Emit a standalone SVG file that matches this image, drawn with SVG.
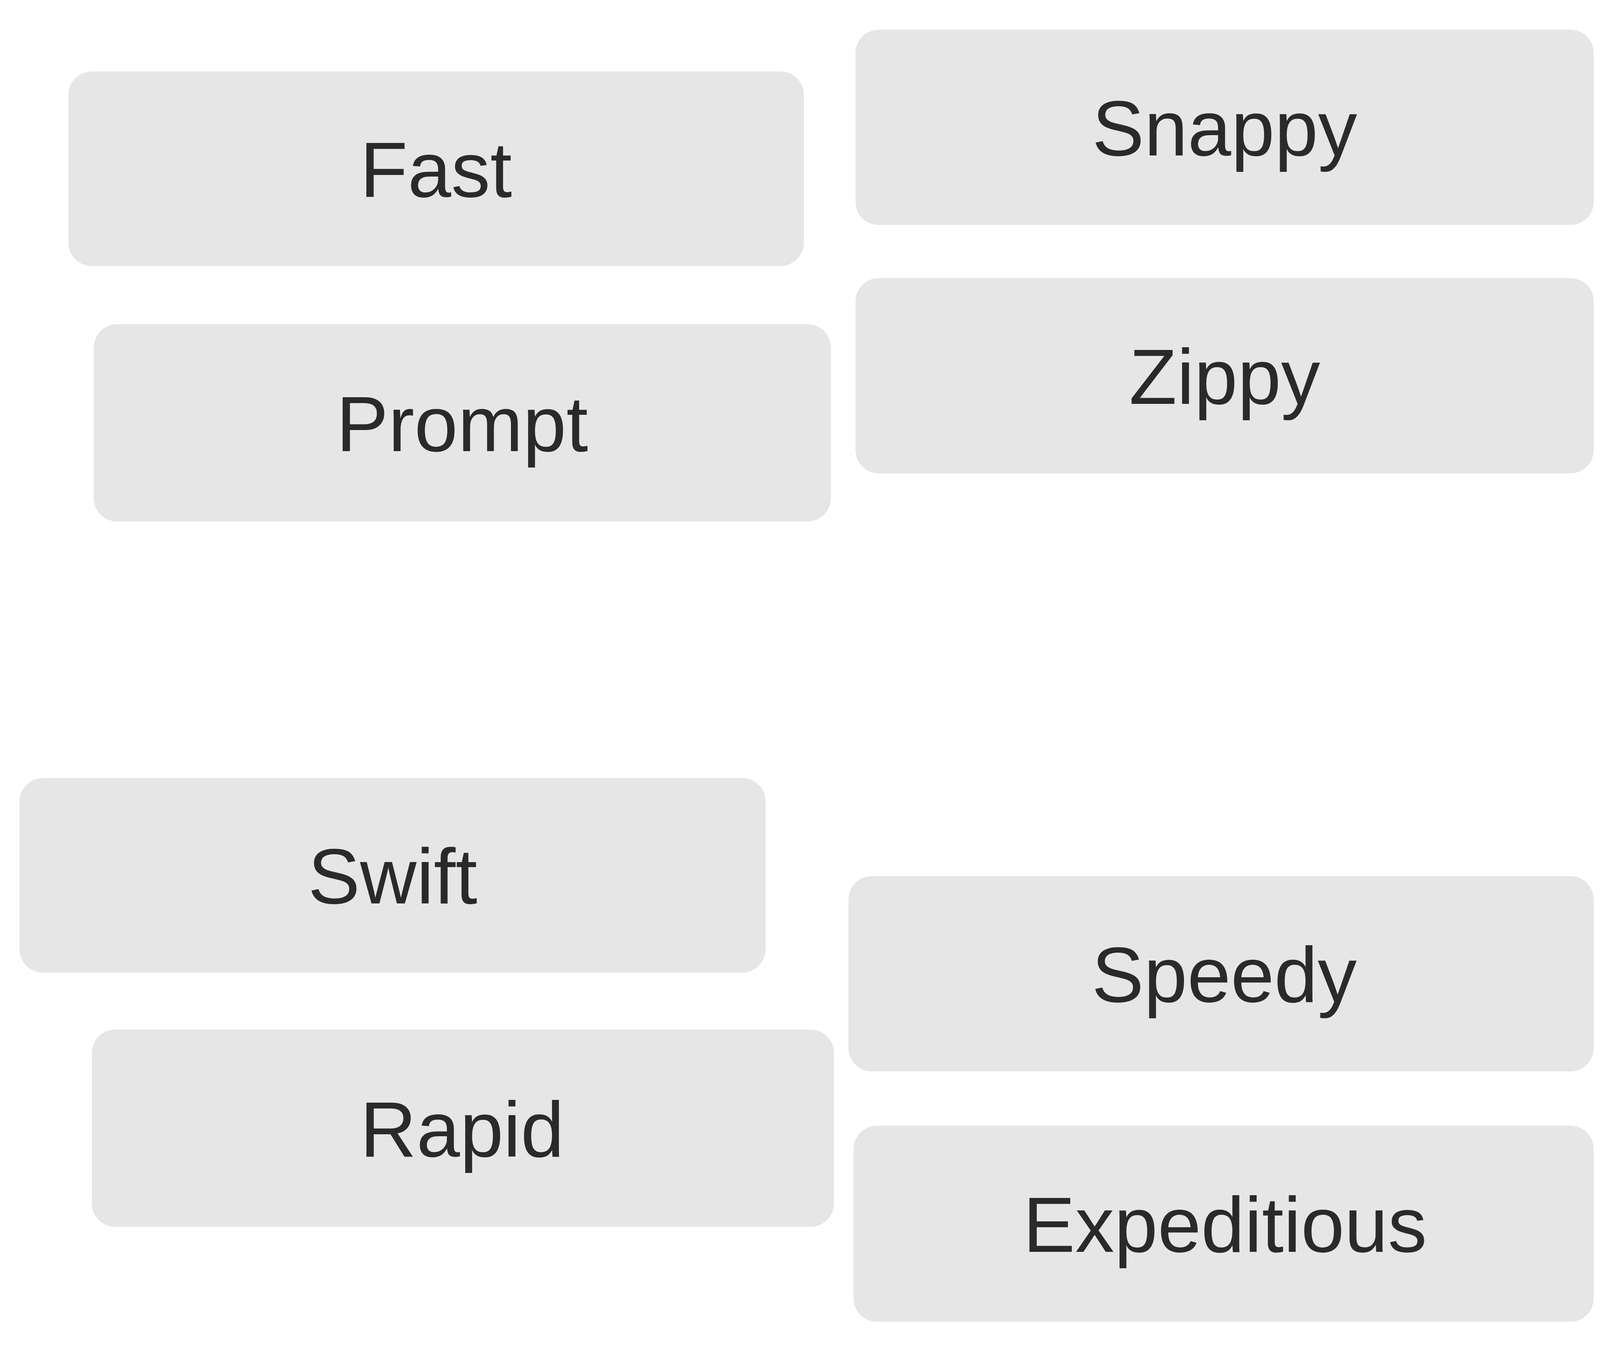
<svg xmlns="http://www.w3.org/2000/svg" width="4134" height="3464" viewBox="0 0 4134 3464">
<style>
.box{fill:#e6e6e6;}
.lbl{font-family:"Liberation Sans",Arial,sans-serif;font-size:200px;fill:#2a2a2a;text-anchor:middle;}
</style>
<rect width="4134" height="3464" fill="#ffffff"/>
<g id="connectors"></g>
<g id="node-fast"><rect class="box" x="175" y="183" width="1883" height="498" rx="60"/><text class="lbl" x="1116" y="504">Fast</text></g>
<g id="node-snappy"><rect class="box" x="2190" y="76" width="1890" height="500" rx="60"/><text class="lbl" x="3135" y="398">Snappy</text></g>
<g id="node-prompt"><rect class="box" x="240" y="830" width="1887" height="505" rx="60"/><text class="lbl" x="1183" y="1155">Prompt</text></g>
<g id="node-zippy"><rect class="box" x="2190" y="712" width="1890" height="500" rx="60"/><text class="lbl" x="3135" y="1034">Zippy</text></g>
<g id="node-swift"><rect class="box" x="50" y="1992" width="1910" height="498" rx="60"/><text class="lbl" x="1005" y="2313">Swift</text></g>
<g id="node-speedy"><rect class="box" x="2172" y="2243" width="1908" height="500" rx="60"/><text class="lbl" x="3134" y="2565">Speedy</text></g>
<g id="node-rapid"><rect class="box" x="235" y="2636" width="1900" height="505" rx="60"/><text class="lbl" x="1183" y="2961">Rapid</text></g>
<g id="node-expeditious"><rect class="box" x="2185" y="2882" width="1895" height="502" rx="60"/><text class="lbl" x="3136" y="3205">Expeditious</text></g>
</svg>
